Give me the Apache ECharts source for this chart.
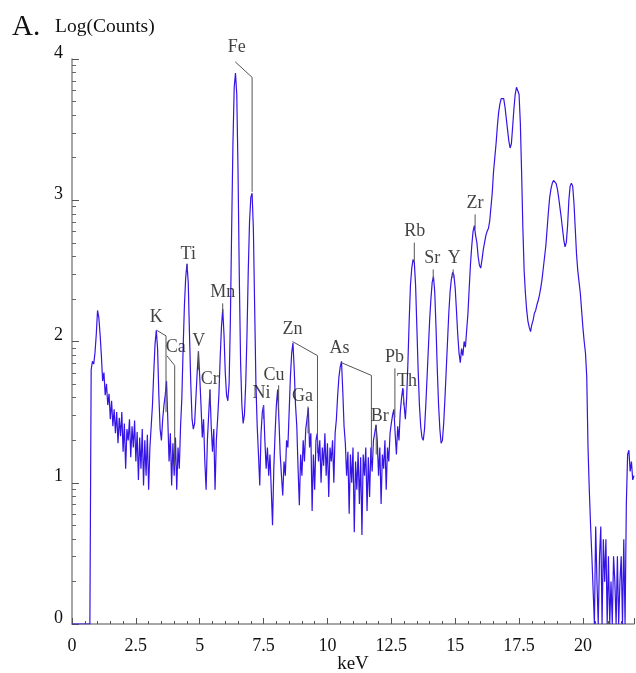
<!DOCTYPE html>
<html>
<head>
<meta charset="utf-8">
<script src="https://cdn.jsdelivr.net/npm/echarts@6/dist/echarts.min.js"></script>
<style>html,body{margin:0;padding:0;background:#fff}#c{width:636px;height:673px}</style>
</head>
<body>
<div id="c"></div>
<script>
// Spectrum: log10(counts) sampled every 0.05 keV starting at 0 keV
const startKeV = 0;
const stepKeV = 0.05;
const logCounts = [
  0,0,0,0,0,0,0,0,0,0,
  0,0,0,0,0,1.80,1.86,1.84,1.92,2.05,
  2.22,2.17,2.05,1.90,1.72,1.78,1.62,1.70,1.55,1.63,
  1.45,1.58,1.40,1.52,1.35,1.50,1.28,1.46,1.33,1.50,
  1.22,1.42,1.10,1.38,1.30,1.45,1.18,1.40,1.25,1.44,
  1.15,1.36,1.02,1.32,1.10,1.38,0.98,1.30,1.05,1.34,
  0.95,1.25,1.40,1.55,1.78,1.98,2.08,1.95,1.62,1.38,
  1.30,1.45,1.55,1.62,1.72,1.45,1.15,1.35,0.98,1.28,
  1.05,1.32,0.95,1.25,1.10,1.40,1.60,1.95,2.25,2.45,
  2.55,2.42,2.05,1.70,1.45,1.38,1.42,1.60,1.78,1.93,
  1.75,1.55,1.32,1.45,1.15,0.95,1.30,1.48,1.66,1.40,
  1.22,1.38,0.95,1.30,1.45,1.62,1.88,2.10,2.23,2.05,
  1.78,1.62,1.58,1.70,2.15,2.80,3.40,3.80,3.90,3.75,
  3.20,2.45,1.85,1.55,1.42,1.48,1.70,2.05,2.50,2.85,
  3.02,3.05,2.80,2.25,1.70,1.40,1.20,0.98,1.35,1.50,
  1.55,1.30,1.10,1.25,1.05,1.20,0.95,0.70,1.10,1.35,
  1.55,1.66,1.45,1.20,1.05,0.91,1.15,1.05,1.30,1.25,
  1.50,1.75,1.92,1.99,1.80,1.55,1.40,1.10,0.84,1.20,
  1.05,1.30,1.15,1.38,1.45,1.53,1.25,1.35,0.80,1.20,
  0.95,1.30,1.35,1.15,1.30,1.00,1.25,1.12,1.35,1.05,
  1.28,0.90,1.25,1.15,1.30,1.00,1.35,1.45,1.62,1.75,
  1.82,1.86,1.65,1.40,1.28,1.05,1.22,0.78,1.20,1.00,
  1.25,0.65,1.15,0.95,1.22,0.85,1.18,0.63,1.20,1.05,
  1.25,0.80,1.18,0.90,1.25,1.08,1.30,1.35,1.41,1.30,
  1.05,1.25,0.85,1.20,1.10,1.30,0.95,1.25,1.15,1.35,
  1.42,1.48,1.52,1.35,1.20,1.40,1.30,1.50,1.60,1.67,
  1.55,1.45,1.60,1.85,2.15,2.40,2.52,2.58,2.56,2.40,
  2.10,1.80,1.55,1.40,1.32,1.30,1.38,1.55,1.75,1.95,
  2.15,2.30,2.42,2.46,2.35,2.10,1.80,1.55,1.38,1.28,
  1.30,1.42,1.60,1.80,2.00,2.20,2.35,2.44,2.49,2.47,
  2.38,2.22,2.05,1.92,1.85,1.95,1.90,2.00,1.96,2.08,
  2.20,2.38,2.55,2.68,2.78,2.82,2.75,2.70,2.60,2.54,
  2.52,2.58,2.65,2.70,2.75,2.78,2.80,2.85,2.95,3.05,
  3.20,3.30,3.40,3.52,3.62,3.68,3.72,3.73,3.72,3.66,
  3.58,3.50,3.42,3.37,3.40,3.52,3.65,3.75,3.80,3.81,
  3.75,3.55,3.20,2.80,2.50,2.34,2.22,2.14,2.10,2.07,
  2.12,2.15,2.20,2.22,2.26,2.29,2.33,2.38,2.44,2.52,
  2.60,2.68,2.80,2.92,3.02,3.08,3.12,3.14,3.13,3.12,
  3.08,3.02,2.95,2.88,2.80,2.72,2.67,2.70,2.82,3.00,
  3.10,3.12,3.10,2.98,2.80,2.62,2.50,2.42,2.34,2.22,
  2.10,2.00,1.92,1.75,1.25,0.95,0.70,0.48,0.48,0,
  0.69,0.30,0,0.48,0.69,0,0.60,0.30,0.60,0,
  0.48,0,0.30,0,0.48,0.30,0,0.48,0,0.30,
  0.48,0,0.60,0,0.85,1.20,1.23,1.08,1.15,1.02,
  1.05
];

// Element annotations (label centre in keV / log counts)
const elements = ['Fe','K','Ca','Ti','V','Cr','Mn','Ni','Cu','Zn','Ga','As','Br','Pb','Th','Rb','Sr','Y','Zr'];
const labelKeV = [6.45,3.30,4.06,4.55,4.96,5.39,5.90,7.42,7.91,8.63,9.02,10.47,12.05,12.62,13.11,13.42,14.10,14.96,15.78];
const labelLog = [4.08,2.17,1.96,2.62,2.00,1.73,2.35,1.63,1.76,2.09,1.61,1.95,1.47,1.89,1.72,2.78,2.59,2.59,2.98];
// Leader lines (keV, log counts)
const leaders = [
  [[6.39,3.98],[7.05,3.87],[7.05,3.06]],
  [[3.31,2.08],[3.68,2.04],[3.68,1.50]],
  [[3.71,1.90],[4.02,1.83],[4.02,1.11]],
  [[4.51,2.55],[4.51,2.50]],
  [[4.95,1.93],[4.95,1.80]],
  [[5.40,1.66],[5.40,1.55]],
  [[5.90,2.27],[5.90,2.20]],
  [[7.50,1.55],[7.50,1.45]],
  [[8.09,1.69],[8.09,1.49]],
  [[8.63,2.00],[9.61,1.90],[9.61,1.21]],
  [[9.24,1.54],[9.24,1.35]],
  [[10.55,1.85],[11.72,1.76],[11.72,1.16]],
  [[11.91,1.41],[11.91,1.20]],
  [[12.64,1.81],[12.64,1.46]],
  [[12.98,1.66],[12.98,1.55]],
  [[13.40,2.70],[13.40,2.56]],
  [[14.14,2.51],[14.14,2.44]],
  [[14.92,2.51],[14.92,2.45]],
  [[15.78,2.90],[15.78,2.80]]
];
const xTicks = [0,2.5,5,7.5,10,12.5,15,17.5,20];
const yDecades = [0,1,2,3];
const minorCountMultipliers = [2,3,4,5,6,7,8,9];

// log-scale minor tick positions on the log10(counts) axis
const yMinorTicks = [];
yDecades.forEach(d => minorCountMultipliers.forEach(m => yMinorTicks.push(+(d + Math.log10(m)).toFixed(4))));

const spectrum = logCounts.map((v, i) => [+(startKeV + i * stepKeV).toFixed(2), v]);
const serif = 'Liberation Serif';
const axisGray = '#8a8a8a';

const series = [{
  type: 'line', data: spectrum, symbol: 'none', z: 2,
  lineStyle: { color: '#3414e6', width: 1.2 }, animation: false
}];
leaders.forEach(pts => series.push({
  type: 'line', data: pts, symbol: 'none', clip: false, z: 3,
  lineStyle: { color: '#555', width: 1 }, animation: false, silent: true
}));
series.push({
  type: 'scatter', clip: false, symbolSize: 1, z: 4,
  itemStyle: { color: 'rgba(0,0,0,0)' },
  data: elements.map((n, i) => ({ name: n, value: [labelKeV[i], labelLog[i]] })),
  label: { show: true, position: 'inside', formatter: '{b}', color: '#111', fontFamily: serif, fontSize: 18 },
  animation: false
});

const chart = echarts.init(document.getElementById('c'), null, { renderer: 'canvas' });
chart.setOption({
  animation: false,
  backgroundColor: '#fff',
  title: [
    { text: 'A.', left: 7, top: 8, textStyle: { fontFamily: serif, fontSize: 29, fontWeight: 'normal', color: '#111' } },
    { text: 'Log(Counts)', left: 50, top: 12, textStyle: { fontFamily: serif, fontSize: 19.5, fontWeight: 'normal', color: '#111' } }
  ],
  grid: { left: 72, right: 2, top: 59, bottom: 49, containLabel: false, outerBoundsMode: 'none' },
  xAxis: {
    type: 'value', min: 0, max: 22, interval: 2.5,
    name: 'keV', nameLocation: 'middle', nameGap: 31, nameMoveOverlap: false,
    nameTextStyle: { fontFamily: serif, fontSize: 19, color: '#111' },
    axisLine: { show: true, lineStyle: { color: axisGray, width: 1.5 } },
    axisTick: { show: true, inside: true, length: 6, lineStyle: { color: '#555', width: 1 } },
    minorTick: { show: true, splitNumber: 5, length: 3, lineStyle: { color: '#555', width: 1 } },
    axisLabel: {
      margin: 13, fontFamily: serif, fontSize: 18, color: '#111', showMaxLabel: false,
      formatter: v => (xTicks.indexOf(v) >= 0 ? String(v) : '')
    },
    splitLine: { show: false }
  },
  yAxis: [{
    type: 'value', min: 0, max: 4, interval: 1,
    axisLine: { show: true, lineStyle: { color: axisGray, width: 1.5 } },
    axisTick: { show: true, inside: true, length: 7, lineStyle: { color: '#555', width: 1 } },
    axisLabel: { margin: 9, fontFamily: serif, fontSize: 18, color: '#111', verticalAlign: 'bottom', lineHeight: 12 },
    splitLine: { show: false }
  }, {
    type: 'value', min: 0, max: 4, position: 'left', offset: 0,
    axisLine: { show: true, lineStyle: { color: 'rgba(0,0,0,0)', width: 0 } },
    axisTick: { show: true, inside: true, length: 4, customValues: yMinorTicks, lineStyle: { color: '#666', width: 1 } },
    axisLabel: { show: false, customValues: yMinorTicks },
    splitLine: { show: false }
  }],
  series: series
});
</script>
</body>
</html>
